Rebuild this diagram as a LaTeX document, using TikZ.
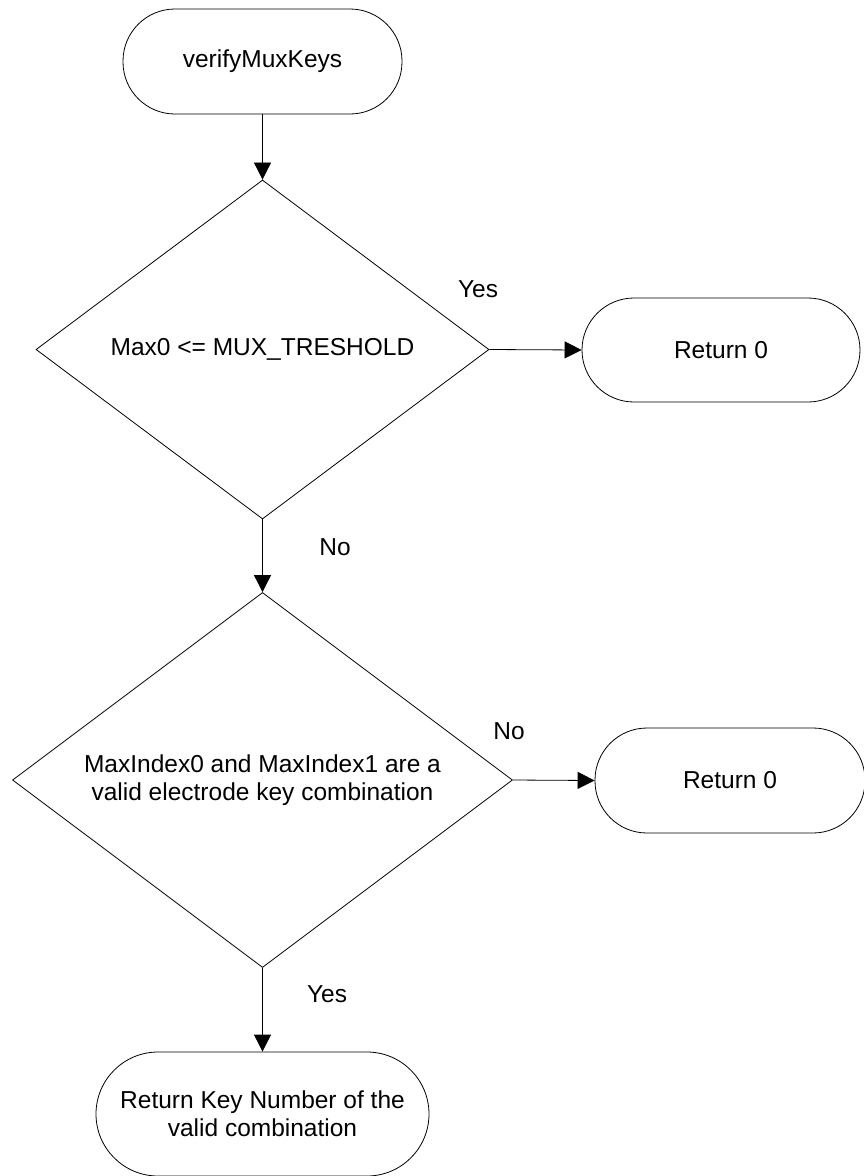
\documentclass[tikz,border=0pt]{standalone}
\usepackage{fontspec}
\setmainfont{Liberation Sans}
\usetikzlibrary{shapes.geometric,arrows.meta}
\begin{document}
\begin{tikzpicture}[x=1pt,y=-1pt,
  every node/.style={font=\fontsize{24.5}{28}\selectfont, inner sep=0pt},
  term/.style={draw, line width=0.8pt, rectangle, rounded corners=#1, align=center},
  dec/.style={draw, line width=0.8pt, diamond, align=center},
  arr/.style={line width=0.8pt, -{Triangle[length=17pt,width=17pt]}},
  lbl/.style={}]
\useasboundingbox (0,0) rectangle (863,1176);
\node[term=52pt, minimum width=279pt, minimum height=105pt] (start) at (262.5,61.5) {verifyMuxKeys};
\node[dec, aspect=1.336, minimum width=453pt, minimum height=339pt] (d1) at (262.5,349.5) {Max0 <= MUX\_TRESHOLD};
\node[term=52pt, minimum width=278pt, minimum height=104pt] (r1) at (721,350) {Return 0};
\node[dec, aspect=1.333, minimum width=500pt, minimum height=375pt] (d2) at (262.5,780) {MaxIndex0 and MaxIndex1 are a\\valid electrode key combination};
\node[term=52pt, minimum width=270pt, minimum height=105pt] (r2) at (730,780.5) {Return 0};
\node[term=62pt, minimum width=333pt, minimum height=124pt] (end) at (262.5,1114) {Return Key Number of the\\valid combination};
\node[lbl] (yes1) at (478,289) {Yes};
\node[lbl] (no1) at (335,547) {No};
\node[lbl] (no2) at (509,731) {No};
\node[lbl] (yes2) at (327,994) {Yes};
\draw[arr] (start) -- (d1);
\draw[arr] (d1.east) -- (r1.west);
\draw[arr] (d1.south) -- (d2.north);
\draw[arr] (d2.east) -- (r2.west);
\draw[arr] (d2.south) -- (end.north);
\end{tikzpicture}
\end{document}
